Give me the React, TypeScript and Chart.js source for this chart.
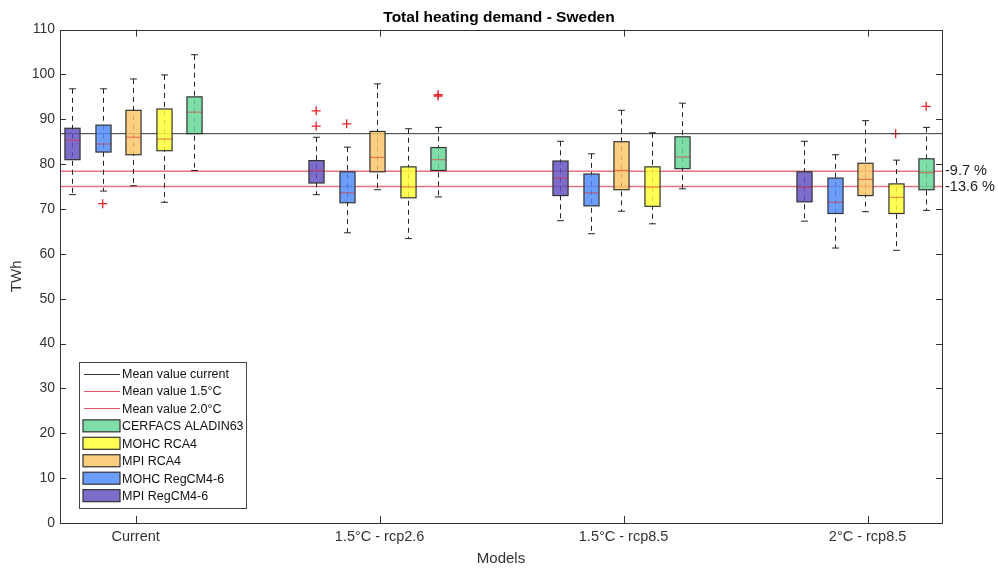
import React, { useEffect, useRef } from 'react';
import { Chart, registerables } from 'chart.js';
Chart.register(...registerables);

// ---------- data ----------
const categories = ['Current', '1.5°C - rcp2.6', '1.5°C - rcp8.5', '2°C - rcp8.5'];
const modelNames = ['MPI RegCM4-6', 'MOHC RegCM4-6', 'MPI RCA4', 'MOHC RCA4', 'CERFACS ALADIN63'];
const modelFills = [
  'rgba(100,80,192,0.84)',
  'rgba(80,138,249,0.84)',
  'rgba(251,197,102,0.84)',
  'rgba(255,255,52,0.84)',
  'rgba(102,214,150,0.84)',
];
// each row: [lower whisker, q1, median, q3, upper whisker], one row per category
const mpiRegCM = [
  [73.2, 81.0, 85.3, 88.0, 96.8],
  [73.2, 75.8, 78.6, 80.8, 86.0],
  [67.4, 73.0, 76.9, 80.7, 85.1],
  [67.3, 71.6, 74.8, 78.3, 85.1],
];
const mohcRegCM = [
  [74.0, 82.7, 84.5, 88.7, 96.8],
  [64.7, 71.4, 73.6, 78.3, 83.8],
  [64.5, 70.7, 73.6, 77.8, 82.3],
  [61.3, 69.0, 71.5, 76.9, 82.1],
];
const mpiRCA = [
  [75.2, 82.1, 86.0, 92.0, 99.0],
  [74.3, 78.3, 81.5, 87.3, 97.9],
  [69.5, 74.3, 78.6, 85.0, 92.0],
  [69.4, 73.0, 76.6, 80.2, 89.7],
];
const mohcRCA = [
  [71.5, 83.0, 85.6, 92.3, 99.9],
  [63.4, 72.5, 74.9, 79.4, 87.9],
  [66.7, 70.6, 74.9, 79.4, 87.0],
  [60.8, 69.0, 72.6, 75.6, 80.9],
];
const cerfacs = [
  [78.6, 86.8, 91.6, 95.0, 104.4],
  [72.7, 78.6, 81.0, 83.7, 88.2],
  [74.5, 79.0, 81.6, 86.1, 93.6],
  [69.7, 74.3, 78.1, 81.2, 88.2],
];
const seriesList = [mpiRegCM, mohcRegCM, mpiRCA, mohcRCA, cerfacs];

// outliers: category index (0-based), model index, value
const outlierCat = [0, 1, 1, 1, 1, 1, 3, 3];
const outlierModel = [1, 0, 0, 1, 4, 4, 3, 4];
const outlierValue = [71.2, 91.9, 88.5, 89.0, 95.5, 95.2, 86.8, 92.9];

const meanCurrent = 86.8;
const mean15 = 78.4;
const mean20 = 75.0;
const changeValues = [78.4, 75.0];
const changeLabels = ['-9.7 %', '-13.6 %'];
const yTickValues = [0, 10, 20, 30, 40, 50, 60, 70, 80, 90, 100, 110];

const legendItems = [
  { label: 'Mean value current', kind: 'line', color: '#333333' },
  { label: 'Mean value 1.5°C', kind: 'line', color: '#e05a66' },
  { label: 'Mean value 2.0°C', kind: 'line', color: '#e05a66' },
  { label: 'CERFACS ALADIN63', kind: 'box', color: modelFills[4] },
  { label: 'MOHC RCA4', kind: 'box', color: modelFills[3] },
  { label: 'MPI RCA4', kind: 'box', color: modelFills[2] },
  { label: 'MOHC RegCM4-6', kind: 'box', color: modelFills[1] },
  { label: 'MPI RegCM4-6', kind: 'box', color: modelFills[0] },
];

// ---------- layout constants ----------
const X_MIN = 0.69;
const X_MAX = 4.305;
const modelOffsets = [-0.26, -0.135, -0.01, 0.115, 0.24];
const BOX_HALF = 0.031;
const CAP_HALF = 0.014;
const FONT = '"Liberation Sans", Arial, sans-serif';
const AXIS_COLOR = '#333333';

const boxPlugin = {
  id: 'boxPlugin',
  afterDatasetsDraw(chart: any) {
    const { ctx } = chart;
    const x = chart.scales.x;
    const y = chart.scales.y;
    ctx.save();
    const hw = x.getPixelForValue(1 + BOX_HALF) - x.getPixelForValue(1);
    const cw = x.getPixelForValue(1 + CAP_HALF) - x.getPixelForValue(1);
    seriesList.forEach((series, m) => {
      series.forEach((s, c) => {
        const cx = Math.round(x.getPixelForValue(c + 1 + modelOffsets[m])) + 0.5;
        const [lo, q1, med, q3, hi] = s.map((v) => y.getPixelForValue(v));
        // whisker
        ctx.strokeStyle = '#222';
        ctx.lineWidth = 1;
        ctx.setLineDash([5, 4]);
        ctx.beginPath();
        ctx.moveTo(cx, hi);
        ctx.lineTo(cx, lo);
        ctx.stroke();
        ctx.setLineDash([]);
        ctx.beginPath();
        ctx.moveTo(cx - cw, hi);
        ctx.lineTo(cx + cw, hi);
        ctx.moveTo(cx - cw, lo);
        ctx.lineTo(cx + cw, lo);
        ctx.stroke();
        // box
        ctx.fillStyle = modelFills[m];
        ctx.fillRect(cx - hw, q3, hw * 2, q1 - q3);
        // median
        ctx.strokeStyle = 'rgba(225,45,45,0.55)';
        ctx.lineWidth = 1.2;
        ctx.beginPath();
        ctx.moveTo(cx - hw, med);
        ctx.lineTo(cx + hw, med);
        ctx.stroke();
        ctx.strokeStyle = '#333';
        ctx.lineWidth = 1.2;
        ctx.strokeRect(cx - hw, q3, hw * 2, q1 - q3);
      });
    });
    ctx.restore();
  },
  afterDraw(chart: any) {
    const { ctx, chartArea: a } = chart;
    const x = chart.scales.x;
    const y = chart.scales.y;
    ctx.save();
    // frame
    ctx.strokeStyle = AXIS_COLOR;
    ctx.lineWidth = 1;
    ctx.strokeRect(Math.round(a.left) + 0.5, Math.round(a.top) + 0.5, Math.round(a.right - a.left), Math.round(a.bottom - a.top));
    // inward ticks
    ctx.beginPath();
    yTickValues.forEach((v) => {
      const py = Math.round(y.getPixelForValue(v)) + 0.5;
      ctx.moveTo(a.left, py);
      ctx.lineTo(a.left + 6, py);
      ctx.moveTo(a.right, py);
      ctx.lineTo(a.right - 6, py);
    });
    categories.forEach((_, i) => {
      const px = Math.round(x.getPixelForValue(i + 1)) + 0.5;
      ctx.moveTo(px, a.bottom);
      ctx.lineTo(px, a.bottom - 7);
      ctx.moveTo(px, a.top);
      ctx.lineTo(px, a.top + 7);
    });
    ctx.stroke();
    // legend
    const lx = a.left + 19;
    const ly = a.bottom - 161;
    const lw = 167;
    const lh = 146;
    ctx.fillStyle = '#ffffff';
    ctx.fillRect(lx, ly, lw, lh);
    ctx.strokeStyle = '#444';
    ctx.strokeRect(lx + 0.5, ly + 0.5, lw, lh);
    ctx.font = `12.5px ${FONT}`;
    ctx.textBaseline = 'middle';
    ctx.textAlign = 'left';
    legendItems.forEach((it, i) => {
      const ry = ly + 11.5 + i * 17.45;
      if (it.kind === 'line') {
        ctx.strokeStyle = it.color;
        ctx.lineWidth = 1;
        ctx.beginPath();
        ctx.moveTo(lx + 5, Math.round(ry) + 0.5);
        ctx.lineTo(lx + 41, Math.round(ry) + 0.5);
        ctx.stroke();
      } else {
        ctx.fillStyle = it.color;
        ctx.fillRect(lx + 4, ry - 6, 37, 12);
        ctx.strokeStyle = '#333';
        ctx.lineWidth = 1.2;
        ctx.strokeRect(lx + 4, ry - 6, 37, 12);
      }
      ctx.fillStyle = '#111';
      ctx.fillText(it.label, lx + 43, ry + 1);
    });
    ctx.restore();
  },
};

export default function App() {
  const ref = useRef<HTMLCanvasElement | null>(null);
  useEffect(() => {
    if (!ref.current) return;
    const hline = (v: number) => [
      { x: X_MIN, y: v },
      { x: X_MAX, y: v },
    ];
    const chart = new Chart(ref.current, {
      type: 'scatter',
      data: {
        datasets: [
          { type: 'line', label: 'Mean value current', data: hline(meanCurrent), borderColor: '#333333', borderWidth: 1, pointRadius: 0 } as any,
          { type: 'line', label: 'Mean value 1.5°C', data: hline(mean15), borderColor: '#e8737d', borderWidth: 1.5, pointRadius: 0 } as any,
          { type: 'line', label: 'Mean value 2.0°C', data: hline(mean20), borderColor: '#e8737d', borderWidth: 1.5, pointRadius: 0 } as any,
          {
            type: 'scatter',
            label: 'Outliers',
            data: outlierValue.map((v, i) => ({ x: outlierCat[i] + 1 + modelOffsets[outlierModel[i]], y: v })),
            pointStyle: 'cross',
            pointRadius: 4.5,
            borderColor: '#e8202a',
            backgroundColor: '#e8202a',
            borderWidth: 1.3,
          } as any,
        ],
      },
      options: {
        animation: false,
        responsive: false,
        devicePixelRatio: 1,
        layout: { padding: { left: 0, right: 0, top: 0, bottom: 0 } },
        plugins: {
          legend: { display: false },
          tooltip: { enabled: false },
          title: {
            display: true,
            text: 'Total heating demand - Sweden',
            color: '#000',
            font: { family: FONT, size: 15.5, weight: 'bold' },
            padding: { top: 8, bottom: 3 },
          },
        },
        scales: {
          x: {
            type: 'linear',
            min: X_MIN,
            max: X_MAX,
            grid: { display: false, drawTicks: false, tickLength: 0 },
            border: { display: false },
            afterBuildTicks: (s: any) => {
              s.ticks = categories.map((_, i) => ({ value: i + 1 }));
            },
            afterFit: (s: any) => {
              s.height = 45;
            },
            ticks: {
              autoSkip: false,
              maxRotation: 0,
              padding: 5,
              color: AXIS_COLOR,
              font: { family: FONT, size: 14.5 },
              callback: (v: any) => categories[Math.round(Number(v)) - 1] ?? '',
            },
            title: {
              display: true,
              text: 'Models',
              color: AXIS_COLOR,
              font: { family: FONT, size: 15 },
              padding: { top: 0, bottom: 0 },
            },
          },
          y: {
            type: 'linear',
            position: 'left',
            min: 0,
            max: 110,
            grid: { display: false, drawTicks: false, tickLength: 0 },
            border: { display: false },
            afterBuildTicks: (s: any) => {
              s.ticks = yTickValues.map((v) => ({ value: v }));
            },
            afterFit: (s: any) => {
              s.width = 60;
            },
            ticks: {
              autoSkip: false,
              padding: 5,
              color: AXIS_COLOR,
              font: { family: FONT, size: 14 },
            },
            title: {
              display: true,
              text: 'TWh',
              color: AXIS_COLOR,
              font: { family: FONT, size: 15 },
              padding: { top: 8, bottom: 0 },
            },
          },
          y2: {
            type: 'linear',
            position: 'right',
            min: 0,
            max: 110,
            grid: { display: false, drawTicks: false, tickLength: 0 },
            border: { display: false },
            afterBuildTicks: (s: any) => {
              s.ticks = changeValues.map((v) => ({ value: v }));
            },
            afterFit: (s: any) => {
              s.width = 56;
            },
            ticks: {
              autoSkip: false,
              padding: 3,
              color: '#222',
              font: { family: FONT, size: 14.5 },
              callback: (_v: any, i: number) => changeLabels[i],
            },
          },
        },
      } as any,
      plugins: [boxPlugin],
    });
    return () => chart.destroy();
  }, []);
  return (
    <div style={{ position: 'absolute', left: 0, top: 0, width: 998, height: 568, background: '#fff' }}>
      <canvas ref={ref} width={998} height={568} style={{ width: 998, height: 568 }} />
    </div>
  );
}
